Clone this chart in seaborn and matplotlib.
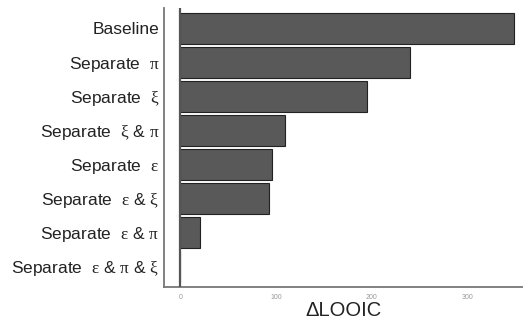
import matplotlib
matplotlib.use("Agg")
import matplotlib.pyplot as plt
import seaborn as sns
import pandas as pd

# model comparison, delta LOOIC relative to the best model
models = [
    "Baseline",
    r"Separate  $\mathrm{\pi}$",
    r"Separate  $\mathrm{\xi}$",
    r"Separate  $\mathrm{\xi}$ & $\mathrm{\pi}$",
    r"Separate  $\mathrm{\varepsilon}$",
    r"Separate  $\mathrm{\varepsilon}$ & $\mathrm{\xi}$",
    r"Separate  $\mathrm{\varepsilon}$ & $\mathrm{\pi}$",
    r"Separate  $\mathrm{\varepsilon}$ & $\mathrm{\pi}$ & $\mathrm{\xi}$",
]
delta_looic = [349, 240, 195, 109, 96, 93, 20, 0]
xticks = [0, 100, 200, 300]

df = pd.DataFrame({"model": models, "dlooic": delta_looic})

sns.set_style("white")
plt.rcParams["font.family"] = ["Liberation Sans", "DejaVu Sans"]
plt.rcParams["mathtext.fontset"] = "custom"
plt.rcParams["mathtext.rm"] = "Liberation Serif"
plt.rcParams["mathtext.it"] = "Liberation Serif:italic"

fig, ax = plt.subplots(figsize=(5.23, 3.24), dpi=100)
sns.barplot(data=df, x="dlooic", y="model", orient="h", ax=ax,
            color="#595959", saturation=1, width=0.9,
            edgecolor="#222222", linewidth=0.8)

ax.axvline(0, color="#555555", lw=1.6, zorder=3)
ax.set_xlim(-17, 358)
ax.set_ylim(len(models) - 0.4, -0.6)
ax.set_xticks(xticks)
ax.tick_params(axis="x", labelsize=5, colors="#999999", length=2, width=0.6)
ax.tick_params(axis="y", labelsize=12.5, labelcolor="#222222", colors="#555555",
               length=2.5, width=0.8, pad=1)
for lab in ax.get_xticklabels():
    lab.set_color("#999999")
ax.set_ylabel("")
ax.set_xlabel("ΔLOOIC", fontsize=14.5, color="#222222", labelpad=0)

sns.despine(ax=ax)
for side in ["left", "bottom"]:
    ax.spines[side].set_color("#777777")
    ax.spines[side].set_linewidth(1.3)

plt.subplots_adjust(left=0.314, right=1.0, top=0.975, bottom=0.115)
plt.savefig("out.png", dpi=100)
